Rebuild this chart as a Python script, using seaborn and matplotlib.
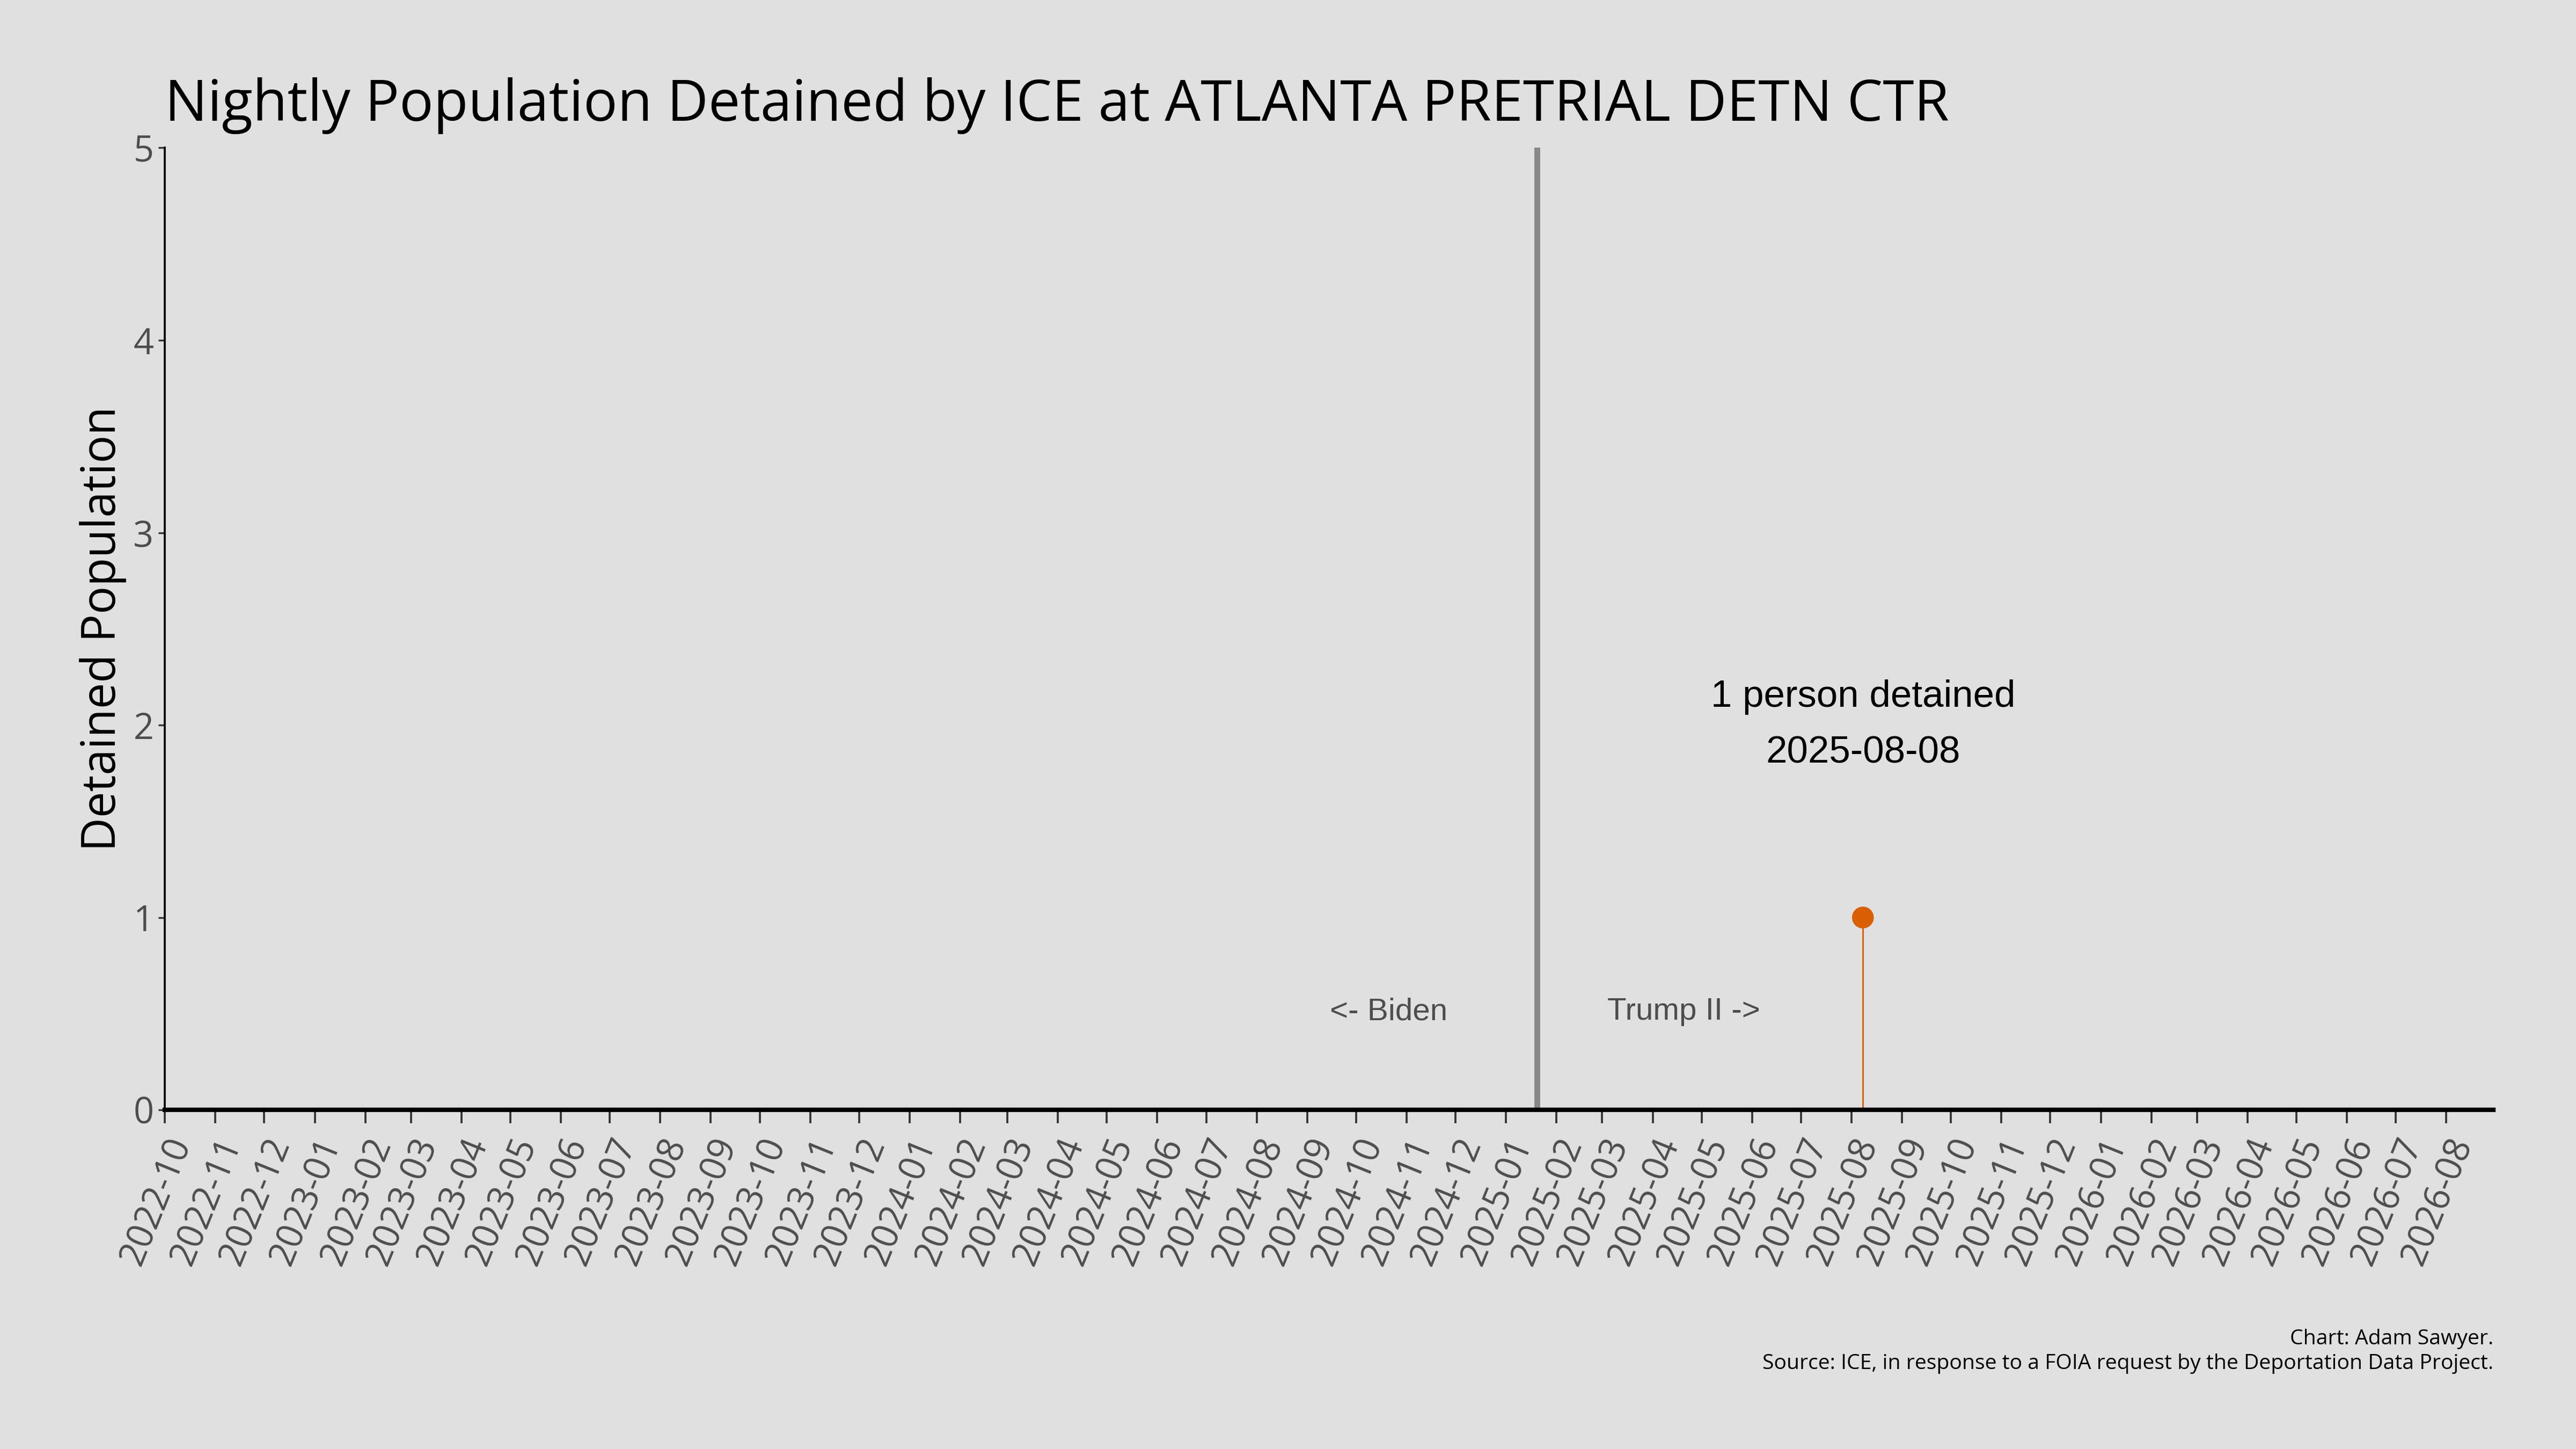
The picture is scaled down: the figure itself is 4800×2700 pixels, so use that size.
import pandas as pd
import numpy as np
import matplotlib
matplotlib.use('Agg')
import matplotlib.pyplot as plt
import matplotlib.dates as mdates
import seaborn as sns

# data
facility = 'ATLANTA PRETRIAL DETN CTR'
detained_dates = ['2025-08-08']
detained_counts = [1]
x_start = '2022-10-01'
x_end = '2026-08-30'
inauguration = '2025-01-20'
era_labels = ['<- Biden', 'Trump II ->']
era_offsets_days = [-91, 90]

bg = '#E0E0E0'
orange = '#D95F02'
grey_text = '#4D4D4D'

sns.set_theme(style='ticks')
plt.rcParams['font.family'] = ['Open Sans', 'DejaVu Sans']

df = pd.DataFrame({'date': pd.to_datetime(detained_dates), 'count': detained_counts})

fig, ax = plt.subplots(figsize=(16, 9), dpi=300)
fig.patch.set_facecolor(bg)
ax.set_facecolor(bg)
fig.subplots_adjust(left=0.064, right=0.968, top=0.898, bottom=0.234)

# stems + points
ax.vlines(df['date'], 0, df['count'], color=orange, lw=0.7, zorder=2)
sns.scatterplot(data=df, x='date', y='count', color=orange, s=95, edgecolor='none', ax=ax, zorder=3)

# inauguration line
inaug = pd.Timestamp(inauguration)
ax.axvline(inaug, color='#888888', lw=2.6, zorder=1)
for lab, off in zip(era_labels, era_offsets_days):
    ax.text(inaug + pd.Timedelta(days=off), 0.51, lab, ha='center', va='center',
            fontsize=14, color=grey_text, family=['Liberation Sans', 'DejaVu Sans'])

# annotation for the single detention
for d, c in zip(df['date'], df['count']):
    word = 'person' if c == 1 else 'people'
    ax.text(d, 2.0, f'{c} {word} detained\n{d:%Y-%m-%d}', ha='center', va='center',
            fontsize=17, color='black', linespacing=1.75, family=['Liberation Sans', 'DejaVu Sans'])

ax.set_xlim(pd.Timestamp(x_start), pd.Timestamp(x_end))
ax.set_ylim(0, 5)
ax.set_yticks(range(0, 6))

ax.xaxis.set_major_locator(mdates.MonthLocator())
ax.xaxis.set_major_formatter(mdates.DateFormatter('%Y-%m'))
plt.setp(ax.get_xticklabels(), rotation=68, ha='right', va='top', rotation_mode='anchor')
ax.tick_params(axis='x', labelsize=16, labelcolor=grey_text, length=6, width=0.9, color='#333333', pad=4)
ax.tick_params(axis='y', labelsize=16, labelcolor=grey_text, length=3, width=0.8, color='#333333', pad=2)

sns.despine(ax=ax)
ax.spines['bottom'].set_linewidth(2.0)
ax.spines['bottom'].set_color('black')
ax.spines['left'].set_linewidth(0.9)
ax.spines['left'].set_color('black')

ax.set_xlabel('')
ax.set_ylabel('Detained Population', fontsize=20.8, color='black', labelpad=3)
ax.set_title(f'Nightly Population Detained by ICE at {facility}', loc='left',
             fontsize=25.4, color='black', pad=12)

fig.text(0.968, 0.052, 'Chart: Adam Sawyer.\nSource: ICE, in response to a FOIA request by the Deportation Data Project.',
         ha='right', va='bottom', fontsize=9.4, color='black', linespacing=1.25)

fig.savefig('out.png', dpi=300, facecolor=bg)
